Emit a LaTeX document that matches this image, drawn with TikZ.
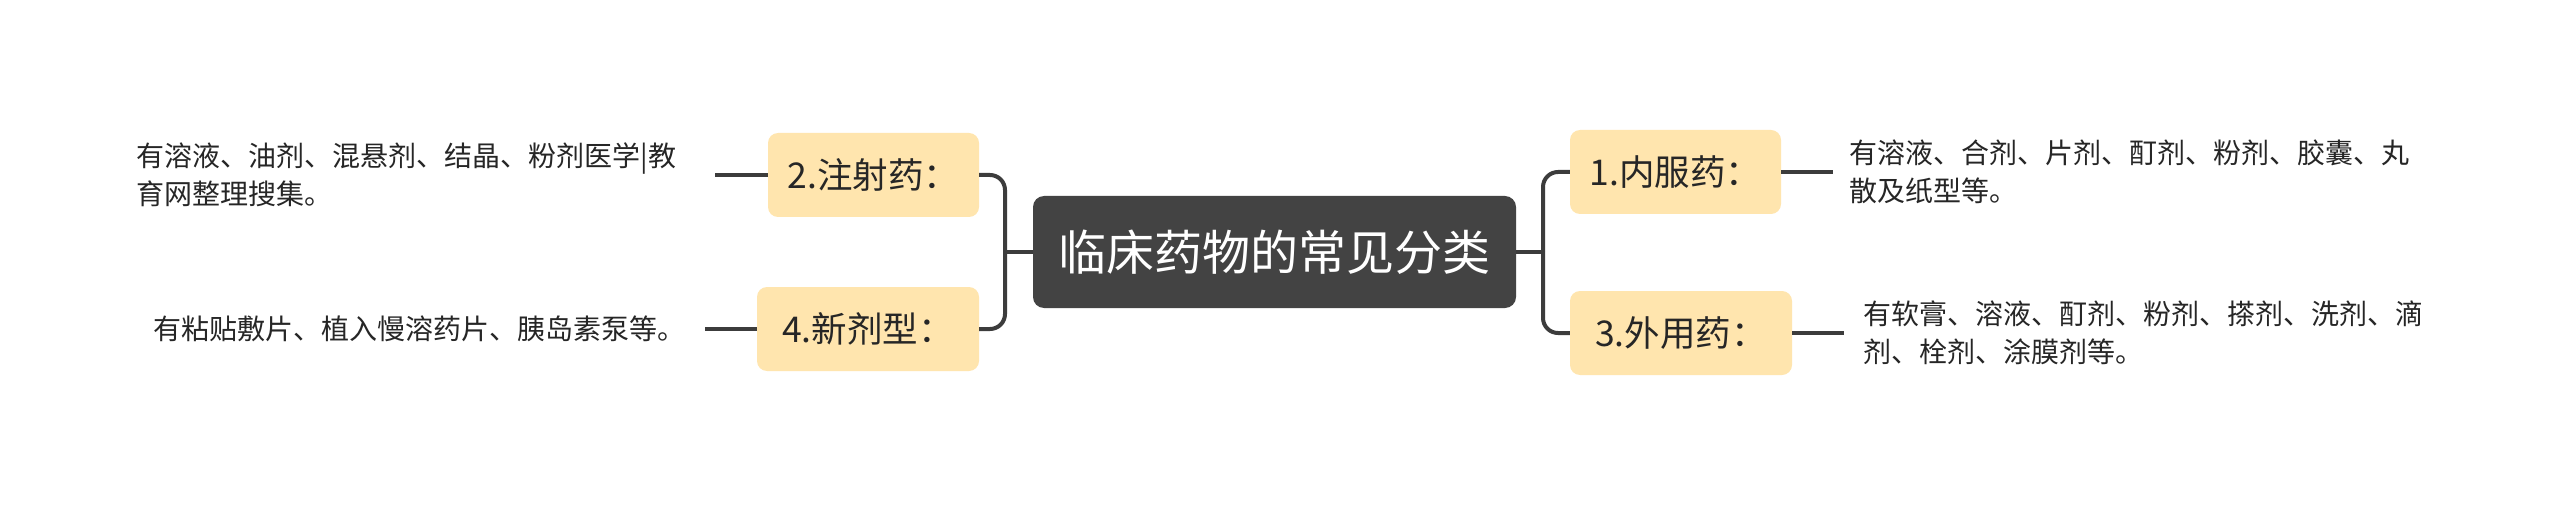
\documentclass[tikz,border=0pt]{standalone}
\usepackage{fontspec}
\setmainfont{Noto Sans CJK SC}
\definecolor{boxfill}{HTML}{FFE5AE}
\definecolor{centerfill}{HTML}{434343}
\definecolor{linecol}{HTML}{3C3C3C}
\definecolor{textcol}{HTML}{262626}
\tikzset{
  centerbox/.style={fill=centerfill, rounded corners=11pt, text=white, minimum width=483pt, minimum height=112pt, inner sep=0pt, font=\fontsize{48}{56}\selectfont},
  catbox/.style={fill=boxfill, rounded corners=10pt, text=textcol, minimum height=84pt, inner sep=0pt, font=\fontsize{35.5}{42}\selectfont},
  desc/.style={text=textcol, align=left, inner ysep=0pt, font=\fontsize{28}{37.5}\selectfont},
  conn/.style={draw=linecol, line width=4pt},
  branch/.style={draw=linecol, line width=4pt, rounded corners=15pt}
}
\begin{document}
\begin{tikzpicture}[x=1pt,y=-1pt]
\fill[white] (0,0) rectangle (2560,505);
\useasboundingbox (0,0) rectangle (2560,505);

\node[centerbox] (c) at (1274.5,252) {临床药物的常见分类};

\node[catbox, minimum width=211pt] (b1) at (1675.5,172) {1.内服药：};
\node[catbox, minimum width=222pt] (b3) at (1681,333) {3.外用药：};
\node[catbox, minimum width=211pt] (b2) at (873.5,175) {2.注射药：};
\node[catbox, minimum width=222pt] (b4) at (868,329) {4.新剂型：};

\node[desc, anchor=west, inner xsep=16pt, text width=570pt] (t1) at (1833,172)
  {有溶液、合剂、片剂、酊剂、粉剂、胶囊、丸\\散及纸型等。};
\node[desc, anchor=west, inner xsep=19pt, text width=570pt] (t3) at (1844,333)
  {有软膏、溶液、酊剂、粉剂、搽剂、洗剂、滴\\剂、栓剂、涂膜剂等。};
\node[desc, anchor=east, inner xsep=18pt, text width=560pt] (t2) at (715,175)
  {有溶液、油剂、混悬剂、结晶、粉剂医学|教\\育网整理搜集。};
\node[desc, anchor=east, inner xsep=11pt, text width=540pt] (t4) at (705,329)
  {有粘贴敷片、植入慢溶药片、胰岛素泵等。};

\coordinate (jr) at (1543,252);
\coordinate (jl) at (1005,252);

\draw[conn] (c.east) -- (jr);
\draw[branch] (b1.west) -| (jr);
\draw[branch] (b3.west) -| (jr);
\draw[conn] (c.west) -- (jl);
\draw[branch] (b2.east) -| (jl);
\draw[branch] (b4.east) -| (jl);

\draw[conn] (b1.east) -- (t1.west);
\draw[conn] (b3.east) -- (t3.west);
\draw[conn] (b2.west) -- (t2.east);
\draw[conn] (b4.west) -- (t4.east);
\end{tikzpicture}
\end{document}
